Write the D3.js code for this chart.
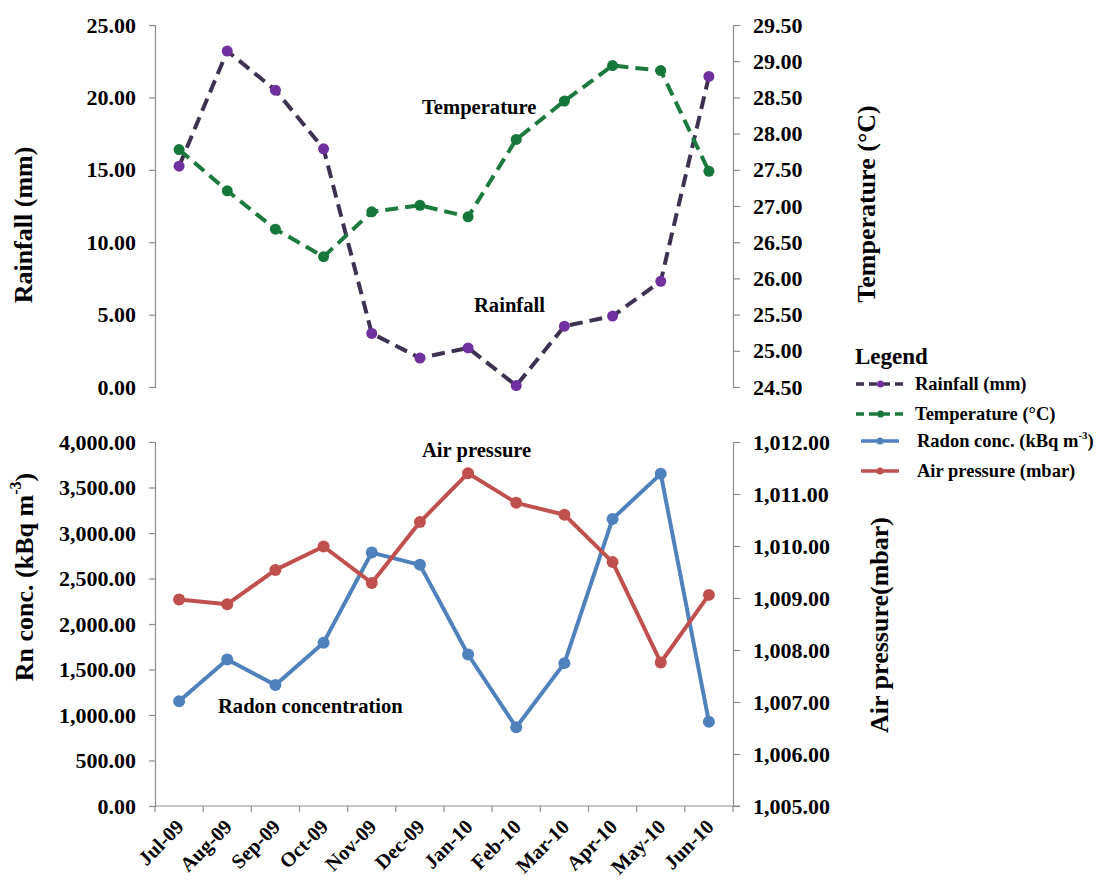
<!DOCTYPE html>
<html>
<head>
<meta charset="utf-8">
<script src="https://cdn.jsdelivr.net/npm/d3@7"></script>
</head>
<body style="margin:0;padding:0;background:#fff">
<svg id="chart" width="1096" height="881" style="display:block;background:#fff"></svg>
<script>
// Monthly observations, Jul 2009 – Jun 2010
const months = ["Jul-09", "Aug-09", "Sep-09", "Oct-09", "Nov-09", "Dec-09",
                "Jan-10", "Feb-10", "Mar-10", "Apr-10", "May-10", "Jun-10"];
const rainfall = [15.25, 23.2, 20.5, 16.45, 3.7, 2.0, 2.7, 0.1, 4.2, 4.9, 7.3, 21.45];
const temperature = [27.78, 27.21, 26.68, 26.30, 26.92, 27.01, 26.85, 27.92, 28.45, 28.94, 28.87, 27.48];
const radon = [1150, 1610, 1330, 1795, 2785, 2650, 1665, 865, 1570, 3155, 3650, 925];
const airPressure = [1008.97, 1008.88, 1009.54, 1009.99, 1009.29, 1010.46,
                     1011.40, 1010.83, 1010.60, 1009.69, 1007.76, 1009.06];

// Tick values for the four value axes
const rainfallTicks = [0, 5, 10, 15, 20, 25];
const temperatureTicks = [24.5, 25, 25.5, 26, 26.5, 27, 27.5, 28, 28.5, 29, 29.5];
const radonTicks = [0, 500, 1000, 1500, 2000, 2500, 3000, 3500, 4000];
const pressureTicks = [1005, 1006, 1007, 1008, 1009, 1010, 1011, 1012];

const FONT = '"Liberation Serif"';
const svg = d3.select("#chart");
const fmt = d3.format(",.2f");

// Apply the serif bold face to a text selection
function face(sel, size) {
  return sel.style("font-family", FONT).style("font-weight", "bold")
    .style("font-size", size + "px").style("fill", "#000");
}

const xLeft = 155, xRight = 733;
const x = d3.scaleBand().domain(months).range([xLeft, xRight]);
const cx = m => x(m) + x.bandwidth() / 2;

const yRain = d3.scaleLinear().domain([0, 25]).range([387, 25]);
const yTemp = d3.scaleLinear().domain([24.5, 29.5]).range([387, 25]);
const yRadon = d3.scaleLinear().domain([0, 4000]).range([806, 442]);
const yPress = d3.scaleLinear().domain([1005, 1012]).range([806, 442]);

const axisColor = "#8c8c8c";

function styleAxis(g) {
  g.attr("font-family", null).attr("font-size", null);
  g.select(".domain").attr("stroke", axisColor).attr("stroke-width", 1.2);
  g.selectAll(".tick line").attr("stroke", axisColor).attr("stroke-width", 1.2);
  face(g.selectAll(".tick text"), 22);
}

function leftAxis(scale, ticks) {
  const g = svg.append("g").attr("transform", `translate(${xLeft},0)`)
    .call(d3.axisLeft(scale).tickValues(ticks).tickFormat(fmt).tickSize(6).tickSizeOuter(6).tickPadding(13));
  styleAxis(g);
}
function rightAxis(scale, ticks) {
  const g = svg.append("g").attr("transform", `translate(${xRight},0)`)
    .call(d3.axisRight(scale).tickValues(ticks).tickFormat(fmt).tickSize(7).tickSizeOuter(7).tickPadding(13));
  styleAxis(g);
}

leftAxis(yRain, rainfallTicks);
rightAxis(yTemp, temperatureTicks);
leftAxis(yRadon, radonTicks);
rightAxis(yPress, pressureTicks);

// Category axis of the lower panel: ticks sit on band boundaries
const xAxis = svg.append("g");
xAxis.append("line")
  .attr("x1", xLeft).attr("x2", xRight + 7)
  .attr("y1", yRadon(0)).attr("y2", yRadon(0))
  .attr("stroke", axisColor).attr("stroke-width", 1.2);
xAxis.selectAll("line.tk").data(months.concat(["end"])).enter().append("line")
  .attr("class", "tk")
  .attr("x1", d => d === "end" ? xRight : x(d))
  .attr("x2", d => d === "end" ? xRight : x(d))
  .attr("y1", yRadon(0)).attr("y2", yRadon(0) + 6)
  .attr("stroke", axisColor).attr("stroke-width", 1.2);
face(xAxis.selectAll("text").data(months).enter().append("text")
  .attr("transform", d => `translate(${cx(d) + 6},${yRadon(0) + 22}) rotate(-45)`)
  .attr("text-anchor", "end")
  .text(d => d), 20.5);

// Axis titles
function vTitle(text, tx, ty) {
  return face(svg.append("text")
    .attr("transform", `translate(${tx},${ty}) rotate(-90)`)
    .attr("text-anchor", "middle")
    .attr("dominant-baseline", "central")
    .text(text), 26);
}
vTitle("Rainfall (mm)", 23, 225);
vTitle("Temperature (°C)", 866, 204);
const rnTitle = vTitle("Rn conc. (kBq m", 24, 577);
rnTitle.append("tspan").attr("baseline-shift", "super").style("font-size", "16px").text("-3");
rnTitle.append("tspan").text(")");
vTitle("Air pressure(mbar)", 879, 625);

// Series lines and markers
const series = [
  { values: rainfall, y: yRain, line: "#3e3152", marker: "#7030a0", dash: "13,7", r: 5.5 },
  { values: temperature, y: yTemp, line: "#1c7a3e", marker: "#15773a", dash: "13,7", r: 5.5 },
  { values: radon, y: yRadon, line: "#4f81bd", marker: "#4f81bd", dash: null, r: 6 },
  { values: airPressure, y: yPress, line: "#c0504d", marker: "#c0504d", dash: null, r: 6 }
];

series.forEach(s => {
  const pts = months.map((m, i) => [cx(m), s.y(s.values[i])]);
  svg.append("path")
    .attr("d", d3.line()(pts))
    .attr("fill", "none")
    .attr("stroke", s.line)
    .attr("stroke-width", 4)
    .attr("stroke-linejoin", "round")
    .attr("stroke-dasharray", s.dash);
  svg.append("g").selectAll("circle").data(pts).enter().append("circle")
    .attr("cx", d => d[0]).attr("cy", d => d[1])
    .attr("r", s.r)
    .attr("fill", s.marker);
});

// In-plot labels
function note(text, tx, ty) {
  face(svg.append("text").attr("x", tx).attr("y", ty)
    .attr("dominant-baseline", "central")
    .text(text), 20.6);
}
note("Temperature", 422, 107);
note("Rainfall", 474, 305);
note("Air pressure", 422, 450);
note("Radon concentration", 218, 706);

// Legend
const lg = svg.append("g");
face(lg.append("text").attr("x", 855).attr("y", 364).text("Legend"), 23);
const legendItems = [
  { label: "Rainfall  (mm)", color: "#3e3152", marker: "#7030a0", dash: "8,5", y: 384, x0: 856, x1: 905, tx: 915 },
  { label: "Temperature (°C)", color: "#1c7a3e", marker: "#15773a", dash: "8,5", y: 414, x0: 856, x1: 905, tx: 915 },
  { label: "Radon conc. (kBq m", color: "#4f81bd", marker: "#4f81bd", dash: null, y: 441, x0: 861, x1: 899, tx: 917, sup: "-3" },
  { label: "Air pressure (mbar)", color: "#c0504d", marker: "#c0504d", dash: null, y: 471, x0: 861, x1: 899, tx: 917 }
];
legendItems.forEach(it => {
  lg.append("line")
    .attr("x1", it.x0).attr("x2", it.x1).attr("y1", it.y).attr("y2", it.y)
    .attr("stroke", it.color).attr("stroke-width", 3.5)
    .attr("stroke-dasharray", it.dash);
  lg.append("circle").attr("cx", (it.x0 + it.x1) / 2).attr("cy", it.y).attr("r", 3.5).attr("fill", it.marker);
  const t = face(lg.append("text").attr("x", it.tx).attr("y", it.y)
    .attr("dominant-baseline", "central").text(it.label), 18.5);
  if (it.sup) {
    t.append("tspan").attr("baseline-shift", "super").style("font-size", "11px").text(it.sup);
    t.append("tspan").text(")");
  }
});
</script>
</body>
</html>
